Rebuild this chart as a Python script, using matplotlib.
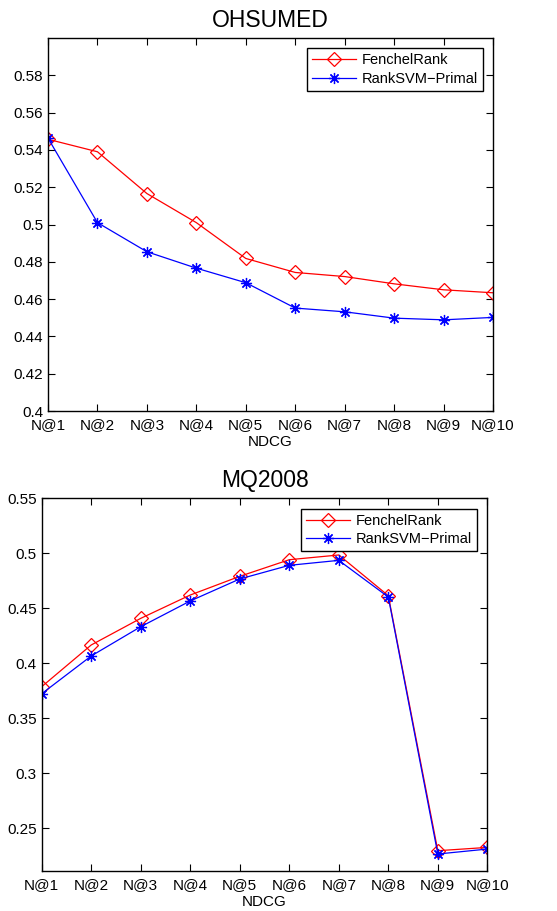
import matplotlib
matplotlib.use("Agg")
import matplotlib.pyplot as plt

plt.rcParams['font.family'] = ['Liberation Sans', 'DejaVu Sans']

categories = ["N@1", "N@2", "N@3", "N@4", "N@5", "N@6", "N@7", "N@8", "N@9", "N@10"]

oh_fenchel = [0.5457, 0.5390, 0.5166, 0.5010, 0.4818, 0.4743, 0.4721, 0.4682, 0.4650, 0.4634]
oh_ranksvm = [0.5463, 0.5010, 0.4854, 0.4766, 0.4688, 0.4552, 0.4532, 0.4498, 0.4489, 0.4502]

mq_fenchel = [0.3788, 0.4167, 0.4409, 0.4621, 0.4791, 0.4942, 0.4985, 0.4615, 0.2297, 0.2327]
mq_ranksvm = [0.3724, 0.4067, 0.4333, 0.4567, 0.4767, 0.4891, 0.4936, 0.4603, 0.2267, 0.2312]

oh_yticks = [0.40, 0.42, 0.44, 0.46, 0.48, 0.50, 0.52, 0.54, 0.56, 0.58]
mq_yticks = [0.25, 0.30, 0.35, 0.40, 0.45, 0.50, 0.55]

fig = plt.figure(figsize=(5.57, 9.11), dpi=100)

def draw(ax, title, fen, svm, yticks, ylim):
    x = list(range(1, len(categories) + 1))
    ax.plot(x, fen, color='red', lw=0.9, marker='D', markersize=7,
            markerfacecolor='none', markeredgecolor='red', markeredgewidth=0.9,
            label='FenchelRank')
    ax.plot(x, svm, color='blue', lw=0.9, marker=(8, 2, 0), markersize=8,
            markeredgecolor='blue', markeredgewidth=0.9, label='RankSVM\u2212Primal')
    ax.set_xlim(1, 10)
    ax.set_ylim(*ylim)
    ax.set_xticks(x)
    ax.set_xticklabels(categories)
    ax.set_yticks(yticks)
    ax.set_yticklabels(['%g' % v for v in yticks])
    ax.tick_params(direction='in', top=True, right=True, labelsize=11, length=5, width=0.8)
    ax.tick_params(axis='x', pad=5)
    for s in ax.spines.values():
        s.set_linewidth(1.0)
    ax.set_title(title, fontsize=16.5, pad=8)
    ax.set_xlabel('NDCG', fontsize=11, labelpad=2)
    leg = ax.legend(loc='upper right', fontsize=10.5, handlelength=3.0, fancybox=False,
                    edgecolor='black', framealpha=1, borderaxespad=0.7,
                    borderpad=0.35, labelspacing=0.3, handletextpad=0.4)
    leg.get_frame().set_linewidth(1.0)

ax1 = fig.add_axes([0.0862, 0.5488, 0.799, 0.4095])
draw(ax1, 'OHSUMED', oh_fenchel, oh_ranksvm, oh_yticks, (0.4, 0.6))

ax2 = fig.add_axes([0.0749, 0.0436, 0.800, 0.4094])
draw(ax2, 'MQ2008', mq_fenchel, mq_ranksvm, mq_yticks, (0.211, 0.55))

fig.savefig('out.png', dpi=100)
